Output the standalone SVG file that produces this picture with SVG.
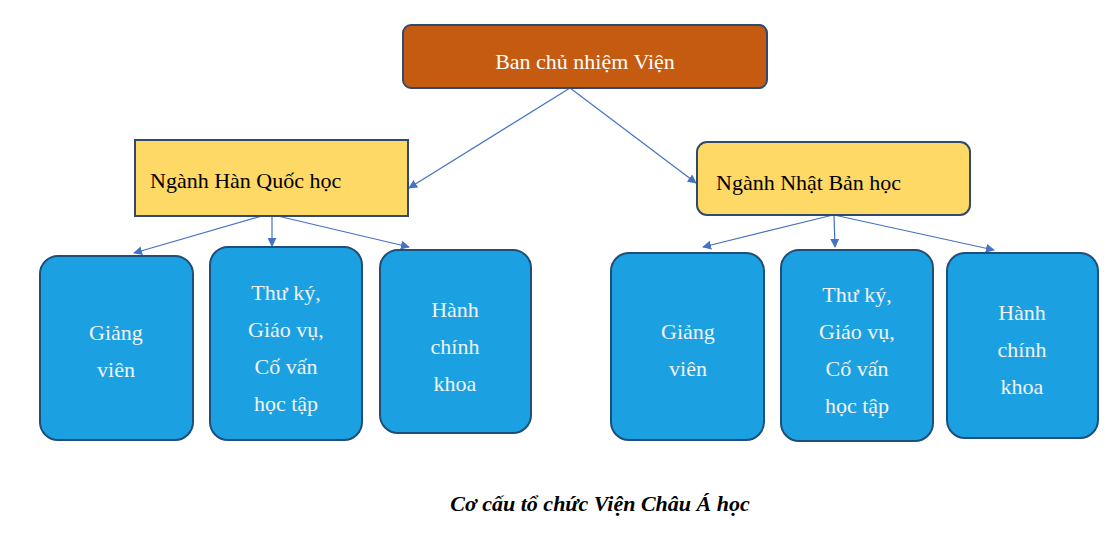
<svg xmlns="http://www.w3.org/2000/svg" width="1114" height="540" viewBox="0 0 1114 540">
<style>
text{font-family:"Liberation Serif","Times New Roman",serif;font-size:22px}
.b{fill:#1BA1E2;stroke:#1F4E79;stroke-width:2}
.bt{fill:#F2F2F2;text-anchor:middle}
.y{fill:#FFD966;stroke:#2F4A6E;stroke-width:2}
.c{stroke:#4472C4;stroke-width:1.2;fill:none;marker-end:url(#a)}
</style>
<defs><marker id="a" viewBox="0 0 10 10" refX="9" refY="5" markerWidth="9" markerHeight="9" orient="auto" markerUnits="userSpaceOnUse"><path d="M0,0L10,5L0,10z" fill="#4472C4"/></marker></defs>
<rect width="1114" height="540" fill="#fff"/>
<g id="connectors">
<line class="c" x1="570" y1="88" x2="409" y2="188"/>
<line class="c" x1="570" y1="88" x2="696" y2="183"/>
<line class="c" x1="262" y1="216" x2="134" y2="253"/>
<line class="c" x1="272" y1="216" x2="272" y2="246"/>
<line class="c" x1="265" y1="213" x2="409" y2="247"/>
<line class="c" x1="833" y1="215" x2="703" y2="247"/>
<line class="c" x1="834" y1="215" x2="835" y2="247"/>
<line class="c" x1="834" y1="215" x2="994" y2="250"/>
</g>
<g id="top"><rect x="403" y="25" width="364" height="63" rx="8" fill="#C55A11" stroke="#2F4A6E" stroke-width="2"/><text x="585" y="69" fill="#fff" text-anchor="middle">Ban chủ nhiệm Viện</text></g>
<g id="han"><rect class="y" x="135" y="140" width="273" height="76"/><text x="150" y="188">Ngành Hàn Quốc học</text></g>
<g id="nhat"><rect class="y" x="697" y="142" width="273" height="73" rx="10"/><text x="716" y="190">Ngành Nhật Bản học</text></g>
<g id="l1"><rect class="b" x="40" y="256" width="153" height="184" rx="18"/><text class="bt" x="116" y="340">Giảng</text><text class="bt" x="116" y="377">viên</text></g>
<g id="l2"><rect class="b" x="210" y="247" width="152" height="193" rx="18"/><text class="bt" x="286" y="300">Thư ký,</text><text class="bt" x="286" y="337">Giáo vụ,</text><text class="bt" x="286" y="374">Cố vấn</text><text class="bt" x="286" y="411">học tập</text></g>
<g id="l3"><rect class="b" x="380" y="250" width="151" height="183" rx="18"/><text class="bt" x="455" y="317">Hành</text><text class="bt" x="455" y="354">chính</text><text class="bt" x="455" y="391">khoa</text></g>
<g id="r1"><rect class="b" x="611" y="253" width="153" height="187" rx="18"/><text class="bt" x="688" y="339">Giảng</text><text class="bt" x="688" y="376">viên</text></g>
<g id="r2"><rect class="b" x="781" y="250" width="152" height="191" rx="18"/><text class="bt" x="857" y="302">Thư ký,</text><text class="bt" x="857" y="339">Giáo vụ,</text><text class="bt" x="857" y="376">Cố vấn</text><text class="bt" x="857" y="413">học tập</text></g>
<g id="r3"><rect class="b" x="947" y="253" width="151" height="185" rx="18"/><text class="bt" x="1022" y="320">Hành</text><text class="bt" x="1022" y="357">chính</text><text class="bt" x="1022" y="394">khoa</text></g>
<text x="600" y="511" text-anchor="middle" font-style="italic" font-weight="bold">Cơ cấu tổ chức Viện Châu Á học</text>
</svg>
